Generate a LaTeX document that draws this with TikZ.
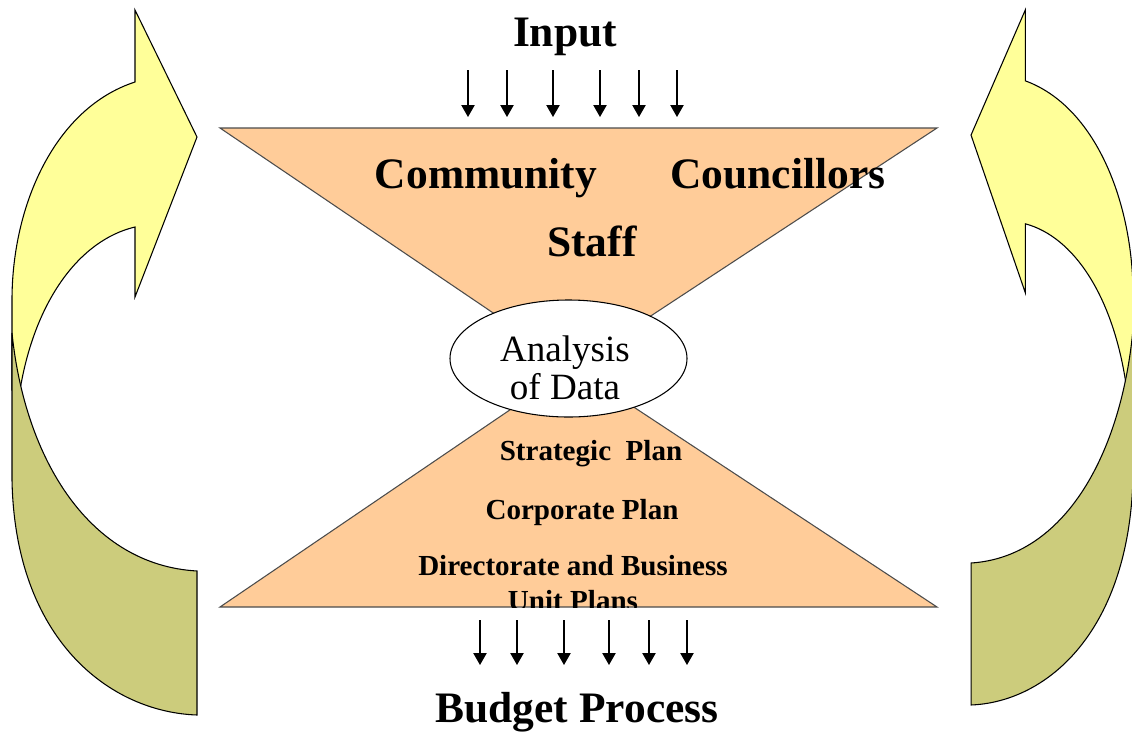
\documentclass[tikz,border=0pt]{standalone}
\usepackage{fontspec}
\setmainfont{Liberation Serif}
\usetikzlibrary{arrows.meta}
\usetikzlibrary{shapes.geometric}
\usetikzlibrary{positioning}

\definecolor{peach}{RGB}{255,204,153}
\definecolor{paleyellow}{RGB}{255,255,153}
\definecolor{arrowolive}{RGB}{204,204,124}

\tikzset{
  funnel/.style={fill=peach, draw=black!70, line width=0.8pt},
  bendpart/.style={draw=black, line width=0.8pt},
  flow/.style={-{Triangle[width=10pt,length=9pt]}, line width=0.9pt},
  bigtext/.style={font=\fontsize{32.6}{36}\selectfont\bfseries, anchor=base, inner sep=0pt},
  plantext/.style={font=\fontsize{21.8}{25.5}\selectfont\bfseries, anchor=base, inner sep=0pt},
  datanode/.style={ellipse, draw=black, fill=white, line width=0.8pt, inner sep=0pt,
    minimum width=177.75pt, minimum height=87.75pt},
  datatext/.style={font=\fontsize{27.8}{28.5}\selectfont, align=center, inner sep=0pt}
}

% one bent arrow: yellow head part and olive tail part
\newcommand{\bendarrow}{%
  \filldraw[bendpart, fill=paleyellow] (20,390) .. controls (35,300) and (80,240) .. (135,227)
    -- (135,297) -- (197,137) -- (135,10) -- (135,82)
    .. controls (55,108) and (12,205) .. (12,300) -- (12,390) -- cycle;
  \filldraw[bendpart, fill=arrowolive] (12,333) -- (12,480)
    .. controls (15,640) and (110,712) .. (197,715) -- (197,571)
    .. controls (90,565) and (25,460) .. (12,333) -- cycle;
}

\begin{document}
\begin{tikzpicture}[x=0.75pt, y=-0.75pt]
    \useasboundingbox (0,0) rectangle (1132,733);

    % hourglass
    \coordinate (tl) at (220,128);
    \coordinate (tr) at (937,128);
    \coordinate (bl) at (220,607);
    \coordinate (br) at (937,607);
    \coordinate (apex) at (573,367);
    \filldraw[funnel] (tl) -- (tr) -- (apex) -- cycle;
    \filldraw[funnel] (bl) -- (br) -- (apex) -- cycle;

    \node[datanode] (analysis) at (568.5,358.5) {};
    \node[datatext] (analysistext) at (565,368) {Analysis\\of Data};

    % input side
    \node[bigtext] (input) at (565,46) {Input};
    \node[bigtext] (community) at (486,188) {Community};
    \node[bigtext] (councillors) at (778,188) {Councillors};
    \node[bigtext] (staff) at (592,256) {Staff};

    % plans, clipped by the lower triangle
    \begin{scope}
        \clip (bl) -- (br) -- (apex) -- cycle;
        \node[plantext] (strategic) at (591,460) {Strategic\ \ Plan};
        \node[plantext] (corporate) at (582,519) {Corporate Plan};
        \node[plantext] (directorate) at (573,575) {Directorate and Business};
        \node[plantext] (unitplans) at (573,610) {Unit Plans};
    \end{scope}

    \node[bigtext] (budget) at (577,722) {Budget Process};

    % flow arrows
    \foreach \x in {468,507,553,600,639,677} {
        \draw[flow] (\x,70) -- (\x,117);
    }
    \foreach \x in {480,517,564,609,649,687} {
        \draw[flow] (\x,620) -- (\x,665);
    }

    % bent arrows left and right
    \bendarrow
    \begin{scope}[shift={(1143.6,0)}, xscale=-0.876, yscale=0.986]
        \bendarrow
    \end{scope}
\end{tikzpicture}
\end{document}
